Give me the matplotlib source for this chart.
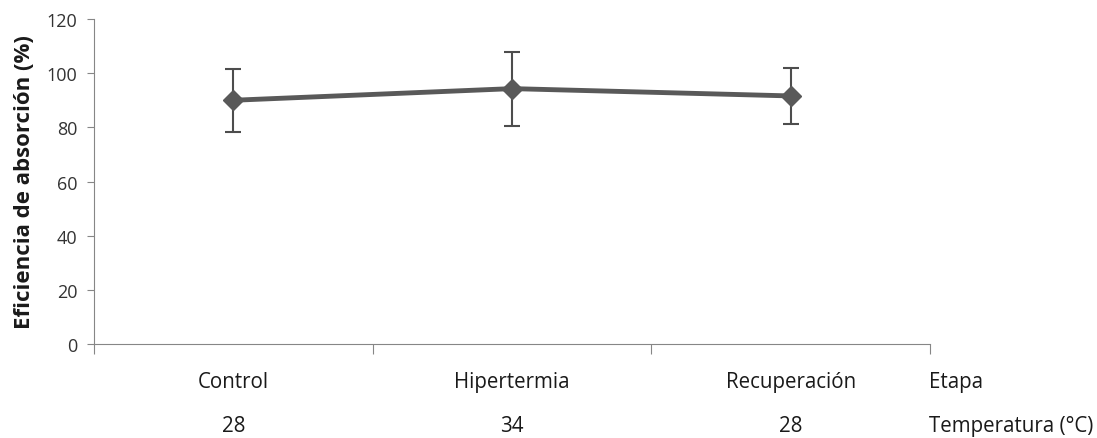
import matplotlib.pyplot as plt

etapas = ["Control", "Hipertermia", "Recuperación"]
temperaturas = ["28", "34", "28"]
eficiencia = [90.0, 94.3, 91.6]
error = [11.6, 13.7, 10.3]

plt.rcParams["font.family"] = ["Open Sans", "DejaVu Sans"]

GRAY = "#595959"
AXIS = "#868686"
TEXT = "#1a1a1a"

fig = plt.figure(figsize=(10.97, 4.39), dpi=100)
ax = fig.add_axes([0.0857, 0.2141, 0.7621, 0.7403])

x = [i + 0.5 for i in range(len(etapas))]
ax.errorbar(x, eficiencia, yerr=error, color=GRAY, linewidth=3.5,
            marker="D", markersize=10, ecolor="#4d4d4d", elinewidth=1.5,
            capsize=5.5, capthick=1.5)

ax.set_xlim(0, len(etapas))
ax.set_ylim(0, 120)
ax.set_yticks(range(0, 121, 20))
ax.set_xticks(range(len(etapas) + 1))
ax.set_xticklabels([])
ax.tick_params(axis="y", direction="out", length=5, color=AXIS,
               labelsize=13, labelcolor="#333333", pad=7)
ax.tick_params(axis="x", direction="out", length=7, color=AXIS)

for side in ("top", "right"):
    ax.spines[side].set_visible(False)
for side in ("left", "bottom"):
    ax.spines[side].set_color(AXIS)

ax.set_ylabel("Eficiencia de absorción (%)", fontsize=16, fontweight="bold",
              labelpad=8, color=TEXT)

# two rows of category labels below the axis
tr = ax.get_xaxis_transform()
row1, row2 = -0.132, -0.268
for xi, etapa, temp in zip(x, etapas, temperaturas):
    ax.text(xi, row1, etapa, transform=tr, ha="center", va="baseline",
            fontsize=14.8, color=TEXT)
    ax.text(xi, row2, temp, transform=tr, ha="center", va="baseline",
            fontsize=14.8, color=TEXT)
ax.text(2.995, row1, "Etapa", transform=tr, ha="left", va="baseline",
        fontsize=14.8, color=TEXT)
ax.text(2.995, row2, "Temperatura (°C)", transform=tr, ha="left",
        va="baseline", fontsize=14.8, color=TEXT)

fig.savefig("out.png", dpi=100)
